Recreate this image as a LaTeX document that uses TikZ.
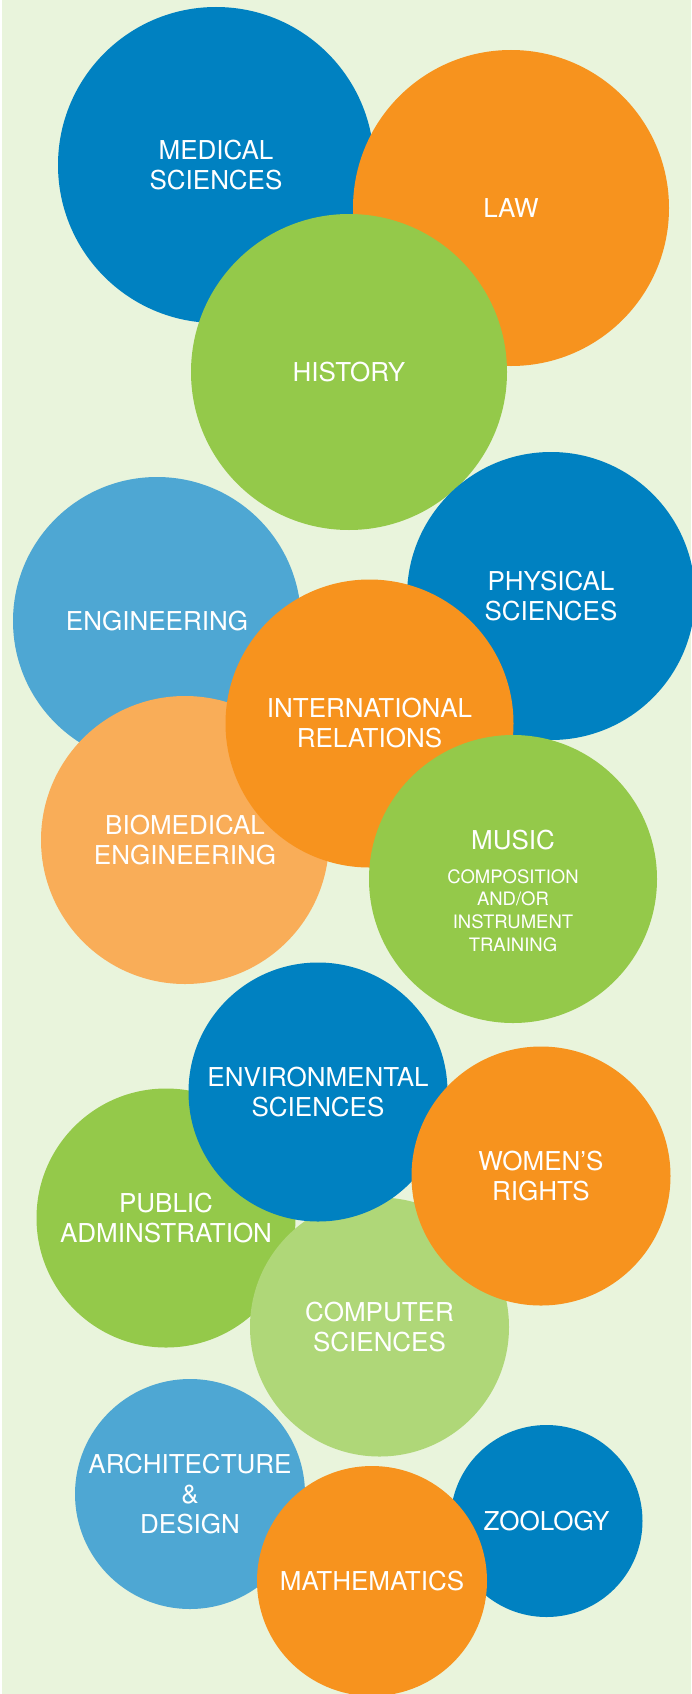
\documentclass[tikz,border=0pt]{standalone}
\usepackage{fontspec}
\setmainfont{TeX Gyre Heros}
\usetikzlibrary{positioning}
\definecolor{bgpale}{RGB}{233,244,220}
\definecolor{deepblue}{RGB}{0,129,193}
\definecolor{skyblue}{RGB}{78,167,211}
\definecolor{brightorange}{RGB}{247,147,30}
\definecolor{paleorange}{RGB}{249,173,88}
\definecolor{leafgreen}{RGB}{148,201,74}
\definecolor{palegreen}{RGB}{175,215,120}

\begin{document}
\begin{tikzpicture}[x=1pt, y=-1pt,
    bubble/.style={circle, fill=#1, inner sep=0pt, text=white, align=center,
        font=\fontsize{26}{30}\selectfont},
    big/.style={minimum size=316pt},
    mid/.style={minimum size=288pt},
    small/.style={minimum size=259pt},
    tiny/.style={minimum size=230pt}]
    % Background
    \fill[white] (0,0) rectangle (691,1694);
    \fill[bgpale] (1.5,0) rectangle (691,1694);
    \useasboundingbox (0,0) rectangle (691,1694);

    % Top group
    \node[bubble=deepblue, big] (medical) at (216,165) {MEDICAL\\SCIENCES};
    \node[bubble=brightorange, big] (law) at (511,208) {LAW};
    \node[bubble=leafgreen, big] (history) at (349,372) {HISTORY};

    % Middle group
    \node[bubble=skyblue, mid] (engineering) at (157,621) {ENGINEERING};
    \node[bubble=deepblue, mid] (physical) at (551,596) {PHYSICAL\\SCIENCES};
    \node[bubble=paleorange, mid] (biomedical) at (185,840) {BIOMEDICAL\\ENGINEERING};
    \node[bubble=brightorange, mid] (international) at (369.5,723.5) {INTERNATIONAL\\RELATIONS};
    \node[bubble=leafgreen, mid] (music) at (513,879) {};
    \node[text=white, inner sep=0pt, font=\fontsize{26}{30}\selectfont] (musictext) at (513,840) {MUSIC};
    \node[text=white, inner sep=0pt, align=center, font=\fontsize{18.5}{22.7}\selectfont,
        below=19pt of musictext] (musicsub) {COMPOSITION\\AND/OR\\INSTRUMENT\\TRAINING};

    % Lower group
    \node[bubble=leafgreen, small] (public) at (166,1218) {PUBLIC\\ADMINSTRATION};
    \node[bubble=palegreen, small] (computer) at (379.5,1327) {COMPUTER\\SCIENCES};
    \node[bubble=deepblue, small] (environmental) at (318,1092) {ENVIRONMENTAL\\SCIENCES};
    \node[bubble=brightorange, small] (women) at (541,1176) {WOMEN’S\\RIGHTS};

    % Bottom group
    \node[bubble=skyblue, tiny] (architecture) at (190,1494) {ARCHITECTURE\\\&\\DESIGN};
    \node[bubble=deepblue, minimum size=192pt] (zoology) at (546.5,1521) {ZOOLOGY};
    \node[bubble=brightorange, tiny] (mathematics) at (372,1581) {MATHEMATICS};
\end{tikzpicture}
\end{document}
